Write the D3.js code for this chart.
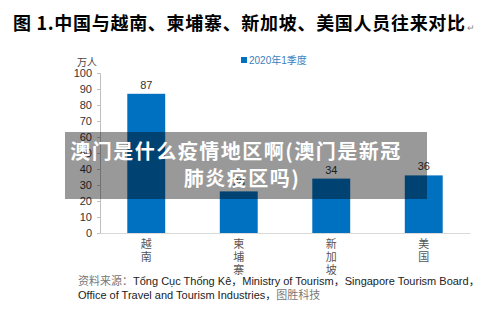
<!DOCTYPE html>
<html>
<head>
<meta charset="utf-8">
<script src="https://cdn.jsdelivr.net/npm/d3@7"></script>
<style>
  html, body { margin: 0; padding: 0; background: #fff; }
  svg { display: block; }
</style>
</head>
<body>
<svg id="chart" width="494" height="333"></svg>
<script>
// Data
const categories = ["越南", "柬埔寨", "新加坡", "美国"];
const values = [87, 26, 34, 36];
const yTicks = [0, 10, 20, 30, 40, 50, 60, 70, 80, 90, 100];
const seriesName = "2020年1季度";
const titleText = "图 1.中国与越南、柬埔寨、新加坡、美国人员往来对比";
const unitText = "万人";
const sourceLines = [
  ["资料来源：", "Tổng Cục Thống Kê，Ministry of Tourism，Singapore Tourism Board，"],
  ["", "Office of Travel and Tourism Industries，", "图胜科技"]
];
const bannerLines = ["澳门是什么疫情地区啊(澳门是新冠", "肺炎疫区吗)"];

const svg = d3.select("#chart");
const sans = "'Liberation Sans', Arial, 'Noto Sans CJK SC', sans-serif";
const cjk = "'Noto Sans CJK SC', sans-serif";
const barColor = "#0070c0";

// Title, with a paragraph mark right after it
const title = svg.append("text")
  .attr("x", 13).attr("y", 30)
  .attr("font-family", cjk).attr("font-weight", "bold")
  .attr("font-size", 18).attr("letter-spacing", 0.7).attr("fill", "#000")
  .text(titleText);
const titleEnd = 13 + title.node().getComputedTextLength();
svg.append("text")
  .attr("x", Math.min(titleEnd + 1, 470)).attr("y", 31)
  .attr("font-family", sans).attr("font-size", 9).attr("fill", "#888")
  .text("↵");

// Scales
const x = d3.scaleBand().domain(categories).range([100, 470]).paddingInner(0.59).paddingOuter(0.295);
const y = d3.scaleLinear().domain([0, 100]).range([233, 73]);

// Y axis
const yAxis = svg.append("g")
  .attr("transform", "translate(100,0)")
  .call(d3.axisLeft(y).tickValues(yTicks).tickSize(3).tickPadding(5));
yAxis.select(".domain").attr("stroke", "#bfbfbf");
yAxis.selectAll(".tick line").attr("stroke", "#bfbfbf");
yAxis.selectAll("text")
  .attr("font-family", sans).attr("font-size", 11).attr("fill", "#333");

// X axis baseline
const xAxis = svg.append("g")
  .attr("transform", "translate(0,233)")
  .call(d3.axisBottom(x).tickSize(0).tickFormat(""));
xAxis.select(".domain").attr("stroke", "#d9d9d9");

// Unit
svg.append("text")
  .attr("x", 87).attr("y", 66).attr("text-anchor", "middle")
  .attr("font-family", cjk).attr("font-size", 10).attr("fill", "#444")
  .text(unitText);

// Legend
svg.append("rect")
  .attr("x", 241).attr("y", 57).attr("width", 6).attr("height", 6)
  .attr("fill", barColor);
svg.append("text")
  .attr("x", 249).attr("y", 64)
  .attr("font-family", sans).attr("font-size", 10).attr("fill", "#3b7fc0")
  .text(seriesName);

// Bars
svg.append("g").selectAll("rect")
  .data(values)
  .join("rect")
  .attr("x", (d, i) => x(categories[i]))
  .attr("y", d => y(d))
  .attr("width", x.bandwidth())
  .attr("height", d => y(0) - y(d))
  .attr("fill", barColor);

// Value labels
svg.append("g").selectAll("text")
  .data(values)
  .join("text")
  .attr("x", (d, i) => x(categories[i]) + x.bandwidth() / 2)
  .attr("y", d => y(d) - 5)
  .attr("text-anchor", "middle")
  .attr("font-family", sans).attr("font-size", 11).attr("fill", "#333")
  .text(d => d);

// Category labels, stacked vertically
const catG = svg.append("g");
categories.forEach((c, i) => {
  const cx = x(c) + x.bandwidth() / 2;
  Array.from(c).forEach((ch, j) => {
    catG.append("text")
      .attr("x", cx).attr("y", 248 + j * 13)
      .attr("text-anchor", "middle")
      .attr("font-family", cjk).attr("font-size", 11).attr("fill", "#555")
      .text(ch);
  });
});

// Source note
sourceLines.forEach((parts, i) => {
  const t = svg.append("text")
    .attr("x", 78).attr("y", 285 + i * 14)
    .attr("font-family", sans).attr("font-size", 11).attr("fill", "#222");
  parts.forEach((p, k) => {
    if (!p) return;
    const isCjk = /[\u4e00-\u9fff]/.test(p);
    t.append("tspan")
      .attr("font-family", isCjk ? cjk : sans)
      .attr("fill", isCjk ? "#777" : "#222")
      .text(p);
  });
});

// Caption banner across the chart
svg.append("rect")
  .attr("x", 65).attr("y", 132).attr("width", 362).attr("height", 67)
  .attr("fill", "#000").attr("fill-opacity", 0.4);
bannerLines.forEach((line, i) => {
  svg.append("text")
    .attr("x", i === 0 ? 236 : 242).attr("y", 159 + i * 27)
    .attr("text-anchor", "middle")
    .attr("font-family", cjk).attr("font-weight", "bold")
    .attr("font-size", 20).attr("letter-spacing", 1.5)
    .attr("fill", "#fff")
    .text(line);
});
</script>
</body>
</html>
